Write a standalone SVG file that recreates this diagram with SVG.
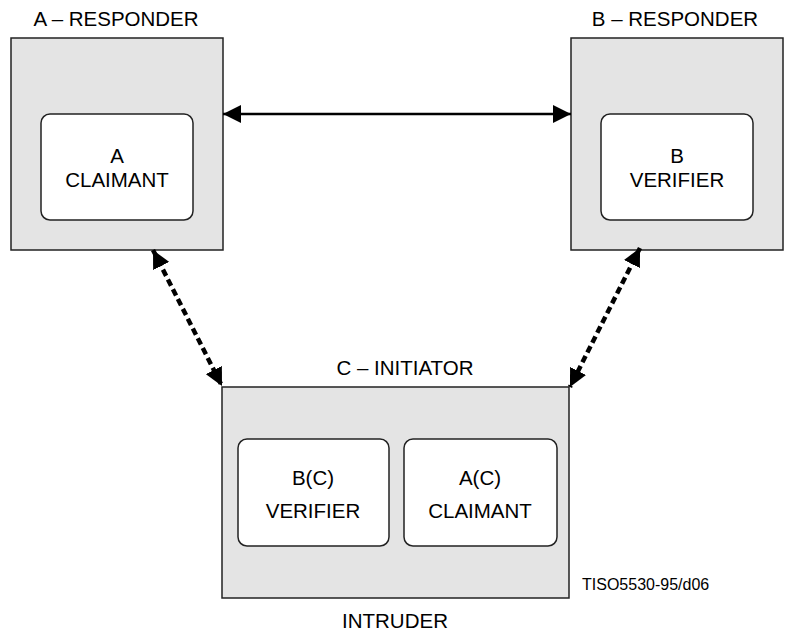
<svg xmlns="http://www.w3.org/2000/svg" width="787" height="634" viewBox="0 0 787 634">
  <style>
    .outer { fill: #e4e4e4; stroke: #222; stroke-width: 1.5; }
    .inner { fill: #ffffff; stroke: #222; stroke-width: 1.5; }
    .lbl { font-family: "Liberation Sans", Arial, sans-serif; font-size: 20.5px; fill: #000; text-anchor: middle; }
    .tag { font-family: "Liberation Sans", Arial, sans-serif; font-size: 16px; fill: #000; }
    .solid { stroke: #000; stroke-width: 2.5; fill: none; }
    .dashed { stroke: #000; stroke-width: 4.5; stroke-dasharray: 7 4; fill: none; }
  </style>
  <defs>
    <marker id="head" markerUnits="userSpaceOnUse" markerWidth="18" markerHeight="18" viewBox="0 0 16 16" refX="16" refY="8" orient="auto-start-reverse">
      <path d="M0,0 L16,8 L0,16 Z" fill="#000"/>
    </marker>
  </defs>

  <rect width="787" height="634" fill="#ffffff"/>

  <g id="node-a">
    <text class="lbl" x="116" y="26">A – RESPONDER</text>
    <rect class="outer" x="11" y="38" width="212" height="212"/>
    <rect class="inner" x="41" y="114" width="152" height="106" rx="9"/>
    <text class="lbl" x="117" y="163">A</text>
    <text class="lbl" x="117" y="187">CLAIMANT</text>
  </g>

  <g id="node-b">
    <text class="lbl" x="675" y="26">B – RESPONDER</text>
    <rect class="outer" x="571" y="38" width="212" height="212"/>
    <rect class="inner" x="601" y="114" width="152" height="106" rx="9"/>
    <text class="lbl" x="677" y="163">B</text>
    <text class="lbl" x="677" y="187">VERIFIER</text>
  </g>

  <g id="node-c">
    <text class="lbl" x="405" y="375">C – INITIATOR</text>
    <rect class="outer" x="222" y="387" width="347" height="211"/>
    <rect class="inner" x="238" y="439" width="151" height="107" rx="9"/>
    <text class="lbl" x="313" y="485">B(C)</text>
    <text class="lbl" x="313" y="518">VERIFIER</text>
    <rect class="inner" x="404" y="439" width="153" height="107" rx="9"/>
    <text class="lbl" x="480" y="485">A(C)</text>
    <text class="lbl" x="480" y="518">CLAIMANT</text>
    <text class="lbl" x="395" y="628">INTRUDER</text>
    <text class="tag" x="582" y="590">TISO5530-95/d06</text>
  </g>

  <g id="connectors">
    <line class="solid" x1="223" y1="114" x2="571" y2="114" marker-start="url(#head)" marker-end="url(#head)"/>
    <line class="dashed" x1="153" y1="250" x2="222" y2="386" marker-start="url(#head)" marker-end="url(#head)"/>
    <line class="dashed" x1="640" y1="248" x2="570" y2="387" marker-start="url(#head)" marker-end="url(#head)"/>
  </g>
</svg>
